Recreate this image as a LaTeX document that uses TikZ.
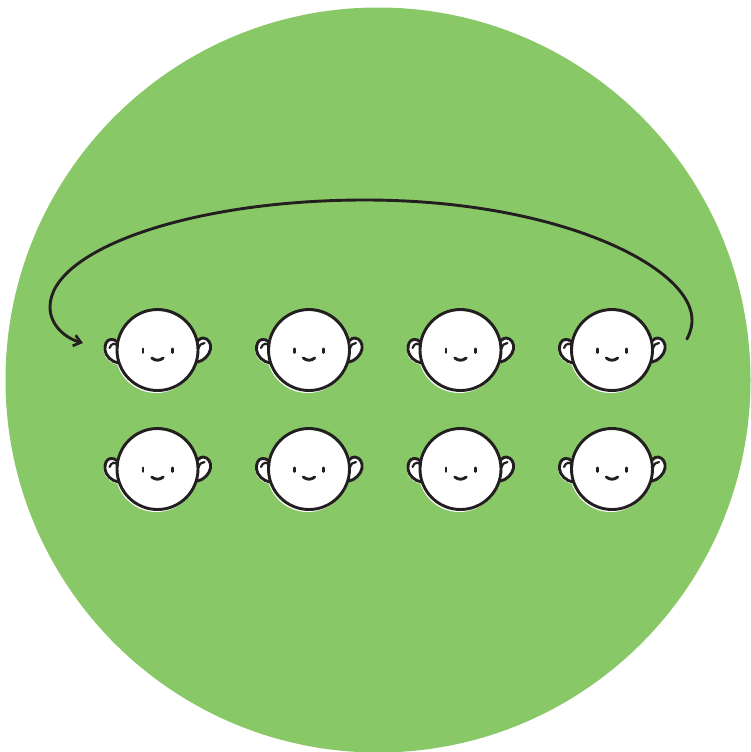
\documentclass[tikz,border=0pt]{standalone}
\usetikzlibrary{arrows.meta}
\definecolor{leaf}{RGB}{137,200,103}
\definecolor{ink}{RGB}{35,31,32}
\tikzset{
  x=1pt,y=-1pt,
  inkline/.style={draw=ink,line width=2.9pt,line cap=round},
  facefill/.style={fill=white,draw=none},
  face/.pic={
    % white offset shapes
    \path[facefill] (-38,-9) .. controls (-42,-11) and (-45,-11) .. (-47,-10.5) .. controls (-52,-10) and (-54.5,-4) .. (-54,1) .. controls (-53,8) and (-47,14) .. (-38,15) -- cycle;
    \path[facefill] (38,-9) .. controls (42,-11) and (44.5,-12.5) .. (46,-12) .. controls (51,-11.5) and (54,-6) .. (53,-1) .. controls (52,5) and (46,11) .. (38,13) -- cycle;
    \path[facefill] (-1.2,2) circle[radius=41];
    % ears
    \draw[inkline] (-40,-8) .. controls (-42,-10) and (-45,-11) .. (-47,-10.5) .. controls (-51,-10) and (-53,-5) .. (-52.5,0) .. controls (-52,6) and (-46,12) .. (-39,13);
    \draw[inkline,line width=2.2pt] (-39.5,-4) .. controls (-42,-7) and (-46,-7.5) .. (-48,-2);
    \draw[inkline] (40,-9) .. controls (42,-11) and (44.5,-12.5) .. (46,-12) .. controls (51,-11.5) and (54,-6) .. (53,-1) .. controls (52,5) and (46,11) .. (40,12);
    \draw[inkline,line width=2.2pt] (41,-1.5) .. controls (42,-5) and (44,-7) .. (47,-7);
    % head
    \draw[inkline] (0,0) circle[radius=40.5];
    % eyes and mouth
    \draw[inkline,line width=2.6pt] (-14.7,-1.2) -- (-14.7,2.6);
    \draw[inkline,line width=2.6pt] (14.7,-1.2) -- (14.7,2.6);
    \draw[inkline] (-5.7,8) .. controls (-2,11) and (2,11) .. (5.7,8);
  }
}
\begin{document}
\begin{tikzpicture}
\useasboundingbox (0,0) rectangle (751,752);
\clip (0,0) rectangle (751,752);
\fill[leaf] (378,380) circle[radius=372.5];
\foreach \y in {350,469}
  \foreach \x in {157.5,309,460.5,612}
    \pic at (\x,\y) {face};
\coordinate (arcstart) at (687,339);
\coordinate (arcend) at (83,343);
\draw[ink,line width=2.9pt,line cap=round,-{Straight Barb[length=7pt,width=11pt,line width=2.7pt]}]
  (arcstart) .. controls (689,335) and (691.6,329) .. (692,322)
  .. controls (695,268) and (560,200) .. (365,200)
  .. controls (190,200) and (50,250) .. (50,307)
  .. controls (50,325) and (65,338) .. (arcend);
\end{tikzpicture}
\end{document}
